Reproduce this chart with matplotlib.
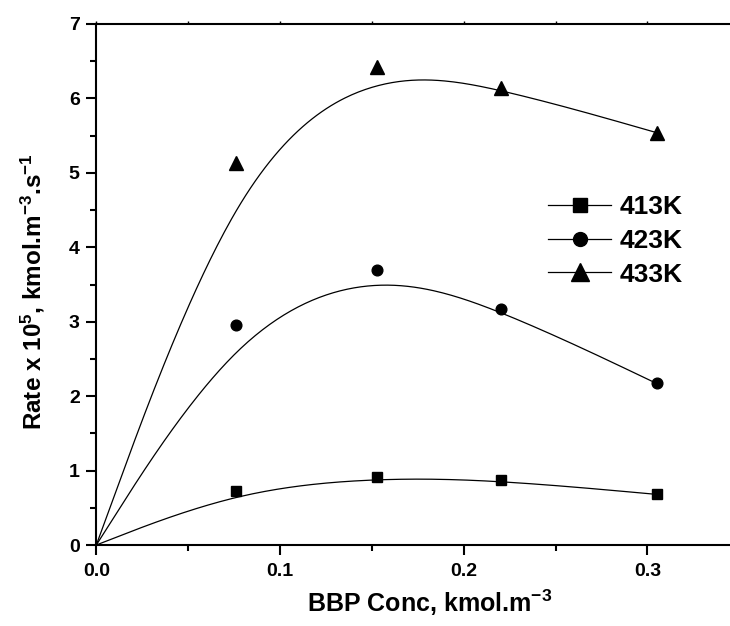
import numpy as np
import matplotlib
matplotlib.use("Agg")
import matplotlib.pyplot as plt
from matplotlib.lines import Line2D
from matplotlib.ticker import MultipleLocator

plt.rcParams['font.family'] = ['Liberation Sans', 'DejaVu Sans']
plt.rcParams['font.weight'] = 'bold'
plt.rcParams['mathtext.fontset'] = 'custom'
plt.rcParams['mathtext.rm'] = 'Liberation Sans:bold'
plt.rcParams['mathtext.it'] = 'Liberation Sans:bold'
plt.rcParams['mathtext.bf'] = 'Liberation Sans:bold'
plt.rcParams['mathtext.default'] = 'rm'

# ---- data ----
conc = [0.076, 0.153, 0.220, 0.305]
rate_413 = [0.73, 0.91, 0.87, 0.68]
rate_423 = [2.95, 3.70, 3.17, 2.17]
rate_433 = [5.13, 6.42, 6.14, 5.54]
labels = ['413K', '423K', '433K']
markers = ['s', 'o', '^']
marker_sizes = [7.2, 7.7, 9.6]
legend_marker_sizes = [9.6, 10.0, 12.7]
origin = (0.0, 0.0)


def bspline(cx, cy, n_per_seg=60):
    """Uniform cubic B-spline with tripled end control points."""
    P = np.column_stack([cx, cy]).astype(float)
    Q = np.vstack([P[0], P[0], P, P[-1], P[-1]])
    s = np.linspace(0, 1, n_per_seg)
    b0 = (1 - s) ** 3 / 6
    b1 = (3 * s ** 3 - 6 * s ** 2 + 4) / 6
    b2 = (-3 * s ** 3 + 3 * s ** 2 + 3 * s + 1) / 6
    b3 = s ** 3 / 6
    pts = []
    for i in range(len(Q) - 3):
        seg = (np.outer(b0, Q[i]) + np.outer(b1, Q[i + 1])
               + np.outer(b2, Q[i + 2]) + np.outer(b3, Q[i + 3]))
        pts.append(seg)
    C = np.vstack(pts)
    return C[:, 0], C[:, 1]


W, H = 730, 626
fig = plt.figure(figsize=(W / 100, H / 100), dpi=100)
x0, x1 = 0.0, 0.35
px_per_x = 1837.3
left_px, bottom_px, top_px = 96.3, 545.0, 24.0
ax = fig.add_axes([left_px / W, (H - bottom_px) / H,
                   (x1 - x0) * px_per_x / W, (bottom_px - top_px) / H])

for ys, mk, ms in zip([rate_413, rate_423, rate_433], markers, marker_sizes):
    cx = [origin[0]] + conc
    cy = [origin[1]] + ys
    bx, by = bspline(cx, cy)
    ax.plot(bx, by, color='black', lw=0.9, zorder=2)
    ax.plot(conc, ys, linestyle='none', marker=mk, markersize=ms,
            color='black', zorder=3, clip_on=False)

ax.set_xlim(x0, x1)
ax.set_ylim(0, 7)
ax.xaxis.set_major_locator(MultipleLocator(0.1))
ax.xaxis.set_minor_locator(MultipleLocator(0.05))
ax.yaxis.set_major_locator(MultipleLocator(1))
ax.yaxis.set_minor_locator(MultipleLocator(0.5))
ax.set_xticks([0.0, 0.1, 0.2, 0.3])
ax.set_xticklabels(['0.0', '0.1', '0.2', '0.3'])

for sp in ax.spines.values():
    sp.set_linewidth(1.5)
ax.spines['right'].set_visible(False)

ax.tick_params(axis='both', which='major', direction='out', length=7.5,
               width=1.5, labelsize=14, pad=4.5)
ax.tick_params(axis='both', which='minor', direction='out', length=4, width=1.5)
ax.tick_params(axis='x', which='both', top=True)
ax.tick_params(axis='x', which='major', pad=5.5)
for lbl in ax.get_xticklabels() + ax.get_yticklabels():
    lbl.set_fontweight('bold')
for t in ax.xaxis.get_major_ticks() + ax.xaxis.get_minor_ticks():
    t.tick2line.set_markersize(2.5)
    t.tick2line.set_markeredgewidth(1.0)

fig.text(430 / W, (H - 611.7) / H, 'BBP Conc, kmol.m$^{-3}$',
         ha='center', va='baseline', fontsize=18, fontweight='bold')
fig.text(41.7 / W, (H - 292) / H, 'Rate x 10$^{5}$, kmol.m$^{-3}$.s$^{-1}$',
         ha='center', va='baseline', rotation=90, rotation_mode='anchor',
         fontsize=17.5, fontweight='bold')

handles = [Line2D([], [], color='black', lw=0.9, marker=mk, markersize=ms)
           for mk, ms in zip(markers, legend_marker_sizes)]
leg = fig.legend(handles, labels, loc='upper left',
                 bbox_to_anchor=(548 / W, (H - 195.5) / H),
                 frameon=False, borderpad=0, borderaxespad=0,
                 handlelength=2.4, handletextpad=0.3, labelspacing=0.36,
                 prop={'size': 19, 'weight': 'bold'})

fig.savefig('out.png', dpi=100)
